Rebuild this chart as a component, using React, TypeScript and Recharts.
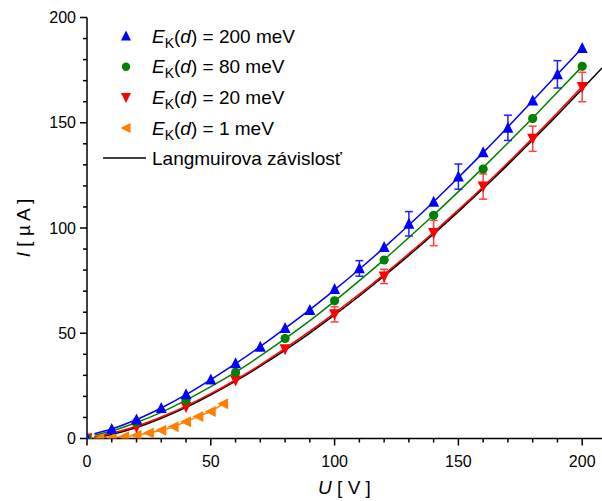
import { ComposedChart, Line, Scatter, XAxis, YAxis, ErrorBar, Label } from "recharts";

const FONT = "'Liberation Sans', Arial, Helvetica, sans-serif";

// measured points, U [V] and I [uA]
const blueU = [0, 10, 20, 30, 40, 50, 60, 70, 80, 90, 100, 110, 120, 130, 140, 150, 160, 170, 180, 190, 200];
const blueI = [0, 4.5, 9, 14.5, 21, 28, 35.7, 43.6, 52.5, 61, 71, 80.8, 91, 102, 112.5, 124.4, 136, 147.6, 160.5, 173, 185.5];
const blueErr = [0, 0, 0, 0, 0, 0, 0, 0, 0, 0, 0, 3.7, 0, 5.8, 0, 6, 0, 6, 0, 6.5, 0];

const greenU = [0, 20, 40, 60, 80, 100, 120, 140, 160, 180, 200];
const greenI = [0, 7.8, 18.2, 31.4, 47.5, 65.4, 84.8, 106, 128, 152, 176.8];

const redU = [0, 20, 40, 60, 80, 100, 120, 140, 160, 180, 200];
const redI = [0, 5.4, 15, 27.6, 42.4, 59, 77, 97.6, 119.7, 142.4, 167];
const redErr = [0, 0, 0, 0, 0, 3.6, 3.4, 6, 6, 6, 7];

const orangeU = [0, 5, 10, 15, 20, 25, 30, 35, 40, 45, 50, 55];
const orangeI = [0, 0, 0.3, 0.8, 1.5, 2.6, 3.9, 5.6, 8, 10.5, 12.8, 16.5];

// fitted curves
const fitU = [3, 10, 20, 30, 40, 50, 60, 70, 80, 90, 100, 110, 120, 130, 140, 150, 160, 170, 180, 190, 200];
const blueFit = [2.3, 4.5, 9, 14.5, 20.8, 28, 35.6, 43.7, 52.3, 61.2, 70.6, 80.4, 90.7, 101.4, 112.5, 124, 135.8, 148, 160.5, 173, 185.5];
const greenFit = [1.6, 3.6, 7.6, 12.4, 18.2, 24.6, 31.5, 39.2, 47.4, 56, 65.3, 75, 85, 95.5, 106.2, 117.3, 128.7, 140.4, 152.3, 164.5, 176.8];
const redFit = [0.8, 2.5, 5.8, 10.2, 15.4, 21.3, 27.8, 35, 42.8, 51, 59.6, 68.6, 78, 87.8, 98, 108.6, 119.6, 131, 142.8, 154.8, 167.2];

const langU = [3, 10, 20, 30, 40, 50, 60, 70, 80, 90, 100, 110, 120, 130, 140, 150, 160, 170, 180, 190, 200, 208];
const langI = [0.3, 1.9, 5.2, 9.6, 14.8, 20.8, 27.3, 34.4, 42, 50.1, 58.7, 67.7, 77.2, 87, 97.2, 107.8, 118.8, 130.1, 141.8, 153.7, 166, 176];

const xTicks = [0, 10, 20, 30, 40, 50, 60, 70, 80, 90, 100, 110, 120, 130, 140, 150, 160, 170, 180, 190, 200];
const yTicks = [0, 10, 20, 30, 40, 50, 60, 70, 80, 90, 100, 110, 120, 130, 140, 150, 160, 170, 180, 190, 200];

const BLUE = "#0000ff";
const GREEN = "#008000";
const RED = "#ff0000";
const ORANGE = "#ff8000";

const pts = (u: number[], i: number[], e?: number[]) =>
  u.map((x, k) => ({ x, y: i[k], err: e && e[k] ? e[k] : undefined }));

const triUp = (cx: number, cy: number, s: number) =>
  `M${cx},${cy - s * 0.55}L${cx + s / 2},${cy + s * 0.45}L${cx - s / 2},${cy + s * 0.45}Z`;
const triDown = (cx: number, cy: number, s: number) =>
  `M${cx},${cy + s * 0.55}L${cx + s / 2},${cy - s * 0.45}L${cx - s / 2},${cy - s * 0.45}Z`;
const triLeft = (cx: number, cy: number, s: number) =>
  `M${cx - s * 0.55},${cy}L${cx + s * 0.45},${cy - s / 2}L${cx + s * 0.45},${cy + s / 2}Z`;

const XTick = ({ x, y, payload }: any) => {
  const major = payload.value % 50 === 0;
  return (
    <g>
      <line x1={x} x2={x} y1={y} y2={y + (major ? 7 : 4)} stroke="#000" strokeWidth={1.5} />
      {major && (
        <text x={x} y={y + 28} textAnchor="middle" fontSize={16} fontFamily={FONT} fill="#000">
          {payload.value}
        </text>
      )}
    </g>
  );
};

const YTick = ({ x, y, payload }: any) => {
  const major = payload.value % 50 === 0;
  return (
    <g>
      <line x1={x} x2={x - (major ? 7 : 4)} y1={y} y2={y} stroke="#000" strokeWidth={1.5} />
      {major && (
        <text x={x - 11} y={y + 5.5} textAnchor="end" fontSize={16} fontFamily={FONT} fill="#000">
          {payload.value}
        </text>
      )}
    </g>
  );
};

const XTitle = ({ viewBox }: any) => (
  <text x={viewBox.x + viewBox.width / 2} y={viewBox.y + 55} textAnchor="middle" fontSize={19} fontFamily={FONT}>
    <tspan fontStyle="italic">U</tspan> [ V ]
  </text>
);

const YTitle = ({ viewBox }: any) => {
  const cx = viewBox.x + 23;
  const cy = viewBox.y + viewBox.height / 2;
  return (
    <text
      x={cx}
      y={cy}
      transform={`rotate(-90, ${cx}, ${cy})`}
      textAnchor="middle"
      dominantBaseline="central"
      fontSize={19}
      fontFamily={FONT}
    >
      <tspan fontStyle="italic">I</tspan> [ µ A ]
    </text>
  );
};

const legendRows = [
  { label: "200", color: BLUE, kind: "up" },
  { label: "80", color: GREEN, kind: "circle" },
  { label: "20", color: RED, kind: "down" },
  { label: "1", color: ORANGE, kind: "left" },
];

const LegendBox = () => (
  <svg width={602} height={501} style={{ position: "absolute", left: 0, top: 0, pointerEvents: "none" }}>
    {legendRows.map((r, k) => {
      const cy = 36 + k * 30.7;
      const cx = 126;
      let mark;
      if (r.kind === "up") mark = <path d={triUp(cx, cy, 10)} fill={r.color} />;
      else if (r.kind === "down") mark = <path d={triDown(cx, cy, 10)} fill={r.color} />;
      else if (r.kind === "left") mark = <path d={triLeft(cx, cy, 10)} fill={r.color} />;
      else mark = <circle cx={cx} cy={cy} r={4.2} fill={r.color} />;
      return (
        <g key={r.label}>
          {mark}
          <text x={152} y={cy + 6.5} fontSize={19} fontFamily={FONT} fill="#000">
            <tspan fontStyle="italic">E</tspan>
            <tspan fontSize={14} dy={5}>K</tspan>
            <tspan dy={-5}>(</tspan>
            <tspan fontStyle="italic">d</tspan>
            <tspan>) = {r.label} meV</tspan>
          </text>
        </g>
      );
    })}
    <line x1={103} x2={146} y1={158} y2={158} stroke="#000" strokeWidth={1.5} />
    <text x={152} y={164.5} fontSize={19} fontFamily={FONT} fill="#000">
      Langmuirova závislosť
    </text>
  </svg>
);

export default function App() {
  return (
    <div style={{ position: "absolute", left: 0, top: 0, width: 602, height: 501, background: "#fff", fontFamily: FONT }}>
      <ComposedChart width={602} height={501} margin={{ top: 17.5, right: 0, bottom: 0, left: 0 }}>
        <XAxis
          type="number"
          dataKey="x"
          domain={[0, 208]}
          ticks={xTicks}
          interval={0}
          allowDataOverflow
          height={62.5}
          tickSize={0}
          tickMargin={0}
          tickLine={false}
          tick={<XTick />}
          axisLine={{ stroke: "#000", strokeWidth: 1.5 }}
        >
          <Label content={<XTitle />} />
        </XAxis>
        <YAxis
          type="number"
          dataKey="y"
          domain={[0, 200]}
          ticks={yTicks}
          interval={0}
          allowDataOverflow
          width={87}
          tickSize={0}
          tickMargin={0}
          tickLine={false}
          tick={<YTick />}
          axisLine={{ stroke: "#000", strokeWidth: 1.5 }}
        >
          <Label content={<YTitle />} />
        </YAxis>

        <Line data={pts(langU, langI)} dataKey="y" type="monotone" stroke="#000" strokeWidth={1.5} dot={false} activeDot={false} isAnimationActive={false} />
        <Line data={pts(fitU, redFit)} dataKey="y" type="monotone" stroke={RED} strokeWidth={1.5} dot={false} activeDot={false} isAnimationActive={false} />
        <Line data={pts(fitU, greenFit)} dataKey="y" type="monotone" stroke={GREEN} strokeWidth={1.5} dot={false} activeDot={false} isAnimationActive={false} />
        <Line data={pts(fitU, blueFit)} dataKey="y" type="monotone" stroke={BLUE} strokeWidth={1.5} dot={false} activeDot={false} isAnimationActive={false} />
        <Line data={pts(orangeU, orangeI)} dataKey="y" type="linear" stroke={ORANGE} strokeWidth={1.5} dot={false} activeDot={false} isAnimationActive={false} />

        <Scatter
          data={pts(orangeU, orangeI)}
          dataKey="y"
          isAnimationActive={false}
          shape={(p: any) => <path d={triLeft(p.cx, p.cy, 11)} fill={ORANGE} />}
        />
        <Scatter
          data={pts(redU, redI, redErr)}
          dataKey="y"
          isAnimationActive={false}
          shape={(p: any) => <path d={triDown(p.cx, p.cy, 11)} fill={RED} />}
        >
          <ErrorBar dataKey="err" direction="y" width={4} stroke="#ff4040" strokeWidth={1.5} />
        </Scatter>
        <Scatter
          data={pts(greenU, greenI)}
          dataKey="y"
          isAnimationActive={false}
          shape={(p: any) => <circle cx={p.cx} cy={p.cy} r={4.6} fill={GREEN} />}
        />
        <Scatter
          data={pts(blueU, blueI, blueErr)}
          dataKey="y"
          isAnimationActive={false}
          shape={(p: any) => <path d={triUp(p.cx, p.cy, 11)} fill={BLUE} />}
        >
          <ErrorBar dataKey="err" direction="y" width={4} stroke="#2020ff" strokeWidth={1.5} />
        </Scatter>
      </ComposedChart>
      <LegendBox />
    </div>
  );
}
